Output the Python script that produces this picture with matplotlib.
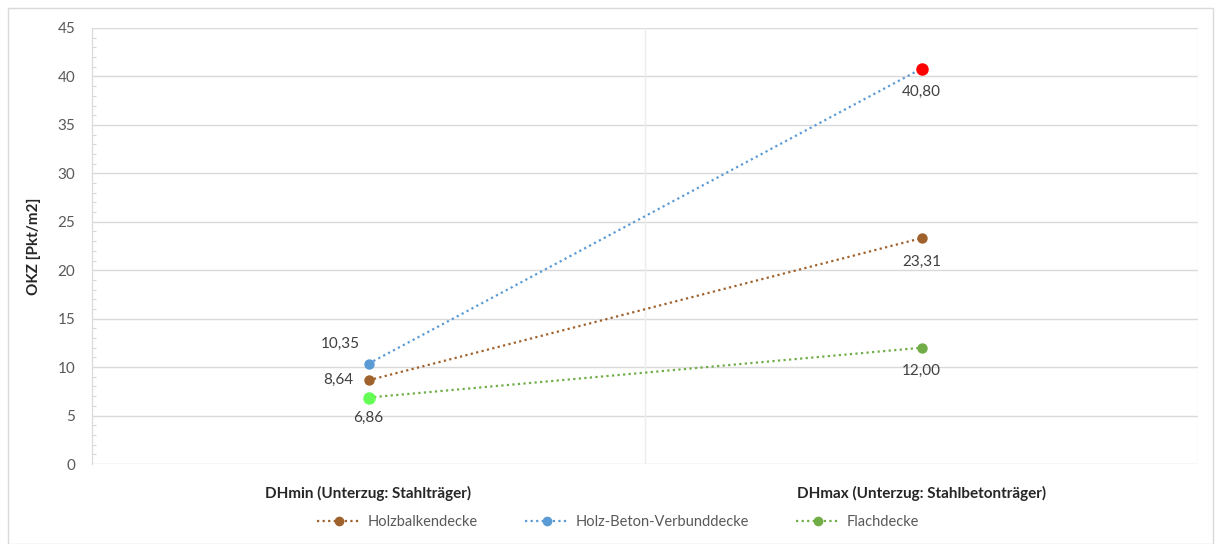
import matplotlib
matplotlib.use("Agg")
import matplotlib.pyplot as plt
from matplotlib.patches import Rectangle
from matplotlib.lines import Line2D

plt.rcParams['font.family'] = ['Lato', 'DejaVu Sans']

categories = ["DHmin (Unterzug: Stahlträger)", "DHmax (Unterzug: Stahlbetonträger)"]
series_names = ["Holzbalkendecke", "Holz-Beton-Verbunddecke", "Flachdecke"]
holzbalken = [8.64, 23.31]
hbv = [10.35, 40.80]
flach = [6.86, 12.00]
y_ticks = [0, 5, 10, 15, 20, 25, 30, 35, 40, 45]

colors = ["#A0622D", "#5B9BD5", "#70AD47"]
# individually highlighted points: (series index, category index) -> colour
highlight = {(1, 1): "#FF0000", (2, 0): "#66FF55"}
# label placement offsets in points per (series, category)
label_offsets = {
    (0, 0): (-22, 0), (0, 1): (0, -17),
    (1, 0): (-20, 14), (1, 1): (0, -17),
    (2, 0): (0, -15), (2, 1): (0, -17),
}

fig = plt.figure(figsize=(12.15, 5.44), dpi=100)
fig.patches.append(Rectangle((8/1215, 0), 1205/1215, 536/544, transform=fig.transFigure,
                             fill=False, edgecolor="#D9D9D9", linewidth=1.0))

ax = fig.add_axes([92/1215, 1 - 464/544, (1198 - 92)/1215, (464 - 28)/544])
xs = [0.5, 1.5]
ax.set_xlim(0, 2)
ax.set_ylim(0, 45)
ax.set_yticks(y_ticks)
ax.set_yticks(range(0, 46), minor=True)
ax.set_xticks(xs)
ax.set_xticklabels(categories, fontsize=11, fontweight='bold', color="#262626")
ax.tick_params(axis='x', length=0, pad=16)
ax.tick_params(axis='y', which='major', length=0, labelsize=11, labelcolor="#595959", pad=12)
ax.tick_params(axis='y', which='minor', length=3, direction='in', color="#D9D9D9", width=0.8)

for y in y_ticks:
    ax.axhline(y, color="#D9D9D9", linewidth=1.0, zorder=0)
for x in [0, 1, 2]:
    ax.axvline(x, color="#EDEDED", linewidth=1.0, zorder=0)
for s in ax.spines.values():
    s.set_visible(False)
ax.spines['left'].set_visible(True)
ax.spines['left'].set_color("#D9D9D9")

ax.set_ylabel("OKZ [Pkt/m2]", fontsize=11, fontweight='bold', color="#262626", labelpad=12)

all_series = [holzbalken, hbv, flach]
for si, vals in enumerate(all_series):
    ax.plot(xs, vals, linestyle=(0, (1, 1.5)), linewidth=1.6, color=colors[si], zorder=2)
    for ci, v in enumerate(vals):
        c = highlight.get((si, ci), colors[si])
        size = 9 if (si, ci) in highlight else 7.5
        ax.plot(xs[ci], v, 'o', markersize=size, color=c, markeredgewidth=0, zorder=3)
        dx, dy = label_offsets[(si, ci)]
        ax.annotate(f"{v:.2f}".replace('.', ','), (xs[ci], v), xytext=(dx, dy),
                    textcoords='offset points', ha='center', va='center',
                    fontsize=11, color="#404040")

handles = [Line2D([0], [0], color=colors[i], linestyle=(0, (1, 1.5)), linewidth=1.6,
                  marker='o', markersize=7, markeredgewidth=0) for i in range(3)]
fig.legend(handles, series_names, loc='center', bbox_to_anchor=(618/1215, 1 - 522/544),
           ncol=3, frameon=False, fontsize=10.5, labelcolor="#595959", handlelength=3,
           columnspacing=3.2, handletextpad=0.5)

fig.savefig("out.png", dpi=100, facecolor="white")
